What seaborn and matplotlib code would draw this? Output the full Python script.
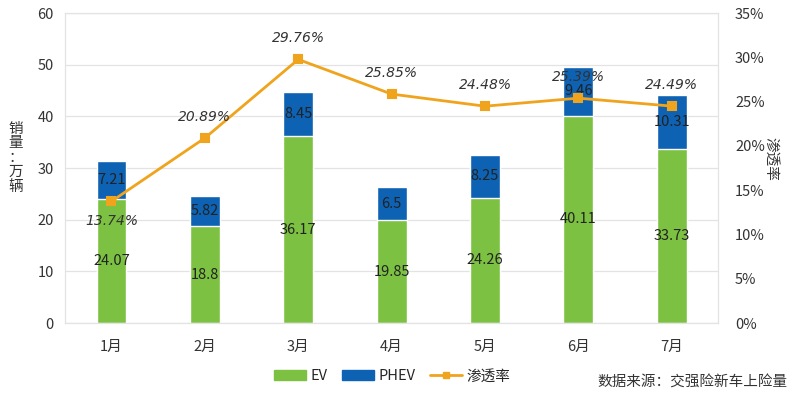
import matplotlib
matplotlib.use("Agg")
import matplotlib.pyplot as plt
import seaborn as sns
from matplotlib.lines import Line2D
from matplotlib.patches import Patch

months = ["1月", "2月", "3月", "4月", "5月", "6月", "7月"]
ev = [24.07, 18.8, 36.17, 19.85, 24.26, 40.11, 33.73]
phev = [7.21, 5.82, 8.45, 6.5, 8.25, 9.46, 10.31]
rate = [13.74, 20.89, 29.76, 25.85, 24.48, 25.39, 24.49]
total = [a + b for a, b in zip(ev, phev)]

green = "#7cc142"
blue = "#0d62b4"
orange = "#f0a31c"

sns.set_style("white")
plt.rcParams["font.family"] = ["Noto Sans CJK SC", "DejaVu Sans"]

fig = plt.figure(figsize=(8, 3.94), dpi=100)
ax = fig.add_axes([0.081, 0.18, 0.817, 0.787])

sns.barplot(x=months, y=total, color=blue, width=0.32, saturation=1, ax=ax)
sns.barplot(x=months, y=ev, color=green, width=0.32, saturation=1, ax=ax)

ax.set_ylim(0, 60)
ax.set_yticks(range(0, 61, 10))
ax.yaxis.grid(True, color="#e3e3e3", linewidth=0.9)
ax.set_axisbelow(True)
for s in ax.spines.values():
    s.set_color("#e3e3e3")
    s.set_linewidth(0.9)
ax.tick_params(axis="both", length=0, labelsize=10.5, colors="#333333", pad=8)
ax.tick_params(axis="x", pad=12)
ax.set_ylabel("")

for i in range(len(months)):
    ax.text(i, ev[i] / 2, f"{ev[i]:g}", ha="center", va="center", fontsize=10.5, color="#222222")
    ax.text(i, ev[i] + phev[i] / 2, f"{phev[i]:g}", ha="center", va="center", fontsize=10.5, color="#222222")

# vertical stacked label on the left
fig.text(0.02, 0.6, "\n".join("销量：万辆"), rotation=0, fontsize=10.5, color="#333333",
         linespacing=1.05, ha="center", va="center")

ax2 = ax.twinx()
sns.pointplot(x=months, y=rate, color=orange, markers="s", markersize=6, linewidth=2, ax=ax2)
ax2.set_ylim(0, 35)
ax2.set_yticks(range(0, 36, 5))
ax2.set_yticklabels([f"{v}%" for v in range(0, 36, 5)])
ax2.tick_params(axis="y", length=0, labelsize=10.5, colors="#333333", pad=12)
for s in ax2.spines.values():
    s.set_visible(False)
ax2.set_ylabel("渗透率", rotation=-90, fontsize=10.5, color="#333333")
ax2.yaxis.set_label_coords(1.09, 0.53)

for i, r in enumerate(rate):
    dy = -2.2 if i == 0 else 2.4
    ax2.text(i, r + dy, f"{r:.2f}%", ha="center", va="center", fontsize=10,
             style="italic", family="DejaVu Sans", color="#333333")

handles = [
    Patch(color=green, label="EV"),
    Patch(color=blue, label="PHEV"),
    Line2D([0], [0], color=orange, marker="s", markersize=5, linewidth=2, label="渗透率"),
]
fig.legend(handles=handles, loc="center", bbox_to_anchor=(0.49, 0.045), ncol=3, frameon=False,
           fontsize=10.5, handlelength=2.2, handleheight=0.6, columnspacing=1.0, handletextpad=0.3)

fig.text(0.985, 0.03, "数据来源：交强险新车上险量", ha="right", va="center", fontsize=10.5, color="#333333")

fig.savefig("out.png", dpi=100)
